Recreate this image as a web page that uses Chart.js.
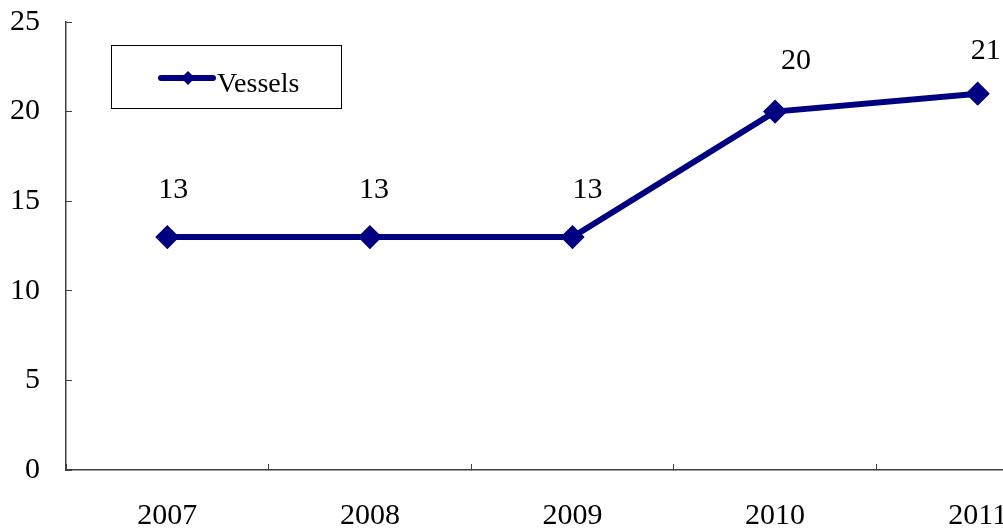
<!DOCTYPE html>
<html>
<head>
<meta charset="utf-8">
<script src="https://cdn.jsdelivr.net/npm/chart.js@4/dist/chart.umd.min.js"></script>
<style>
  html, body { margin: 0; padding: 0; background: #fff; overflow: hidden; }
  #wrap { width: 1092px; height: 540px; position: relative; }
</style>
</head>
<body>
<div id="wrap"><canvas id="vesselChart"></canvas></div>
<script>
// --- DATA ---
const years = ['2007', '2008', '2009', '2010', '2011'];
const vessels = [13, 13, 13, 20, 21];
const yTicks = [0, 5, 10, 15, 20, 25];
const seriesLabel = 'Vessels';

const NAVY = '#000080';
const AXIS = '#404040';
const FONT = "'Liberation Serif', 'DejaVu Serif', serif";

// small per-label nudges (px) so value labels sit like the original
const labelNudgeX = [6, 4, 15, 21, 8];
const labelNudgeY = [-47, -47, -47, -50, -43];

// value labels above each point
const valueLabels = {
    id: 'valueLabels',
    afterDatasetsDraw(chart) {
        const ctx = chart.ctx;
        const meta = chart.getDatasetMeta(0);
        ctx.save();
        ctx.font = `30px ${FONT}`;
        ctx.fillStyle = '#000';
        ctx.textAlign = 'center';
        ctx.textBaseline = 'middle';
        meta.data.forEach((pt, i) => {
            ctx.fillText(String(chart.data.datasets[0].data[i]),
                pt.x + labelNudgeX[i], pt.y + labelNudgeY[i]);
        });
        ctx.restore();
    }
};

// boxed legend in the upper-left of the plot
const boxLegend = {
    id: 'boxLegend',
    afterDraw(chart) {
        const ctx = chart.ctx;
        const ds = chart.data.datasets[0];
        ctx.save();
        ctx.strokeStyle = '#000';
        ctx.lineWidth = 1;
        ctx.strokeRect(111.5, 45.5, 230, 63);
        // sample line
        ctx.strokeStyle = ds.borderColor;
        ctx.lineWidth = 6;
        ctx.lineCap = 'round';
        ctx.beginPath();
        ctx.moveTo(161, 78);
        ctx.lineTo(213, 78);
        ctx.stroke();
        // sample marker
        ctx.fillStyle = ds.borderColor;
        ctx.beginPath();
        ctx.moveTo(188, 71);
        ctx.lineTo(195, 78);
        ctx.lineTo(188, 85);
        ctx.lineTo(181, 78);
        ctx.closePath();
        ctx.fill();
        // text
        ctx.fillStyle = '#000';
        ctx.font = `28px ${FONT}`;
        ctx.textAlign = 'left';
        ctx.textBaseline = 'alphabetic';
        ctx.fillText(ds.label, 217, 92);
        ctx.restore();
    }
};

new Chart(document.getElementById('vesselChart').getContext('2d'), {
    type: 'line',
    data: {
        labels: years,
        datasets: [{
            label: seriesLabel,
            data: vessels,
            borderColor: NAVY,
            backgroundColor: NAVY,
            borderWidth: 6,
            pointStyle: 'rectRot',
            pointRadius: 10,
            pointBorderWidth: 3,
            pointBackgroundColor: NAVY,
            pointBorderColor: NAVY,
            tension: 0,
            fill: false
        }]
    },
    options: {
        responsive: true, maintainAspectRatio: false,
        animation: false,
        layout: { padding: { top: 22, right: 2, left: 0, bottom: 0 } },
        plugins: { legend: { display: false }, tooltip: { enabled: false } },
        scales: {
            x: {
                offset: true,
                grid: { offset: true, drawOnChartArea: false, tickLength: -6, color: AXIS, lineWidth: 1 },
                border: { color: AXIS, width: 1.5 },
                ticks: { color: '#000', font: { family: FONT, size: 30 }, padding: 34, maxRotation: 0 },
                afterFit(scale) { scale.height = 70; }
            },
            y: {
                min: 0, max: 25,
                afterBuildTicks(scale) { scale.ticks = yTicks.map(v => ({ value: v })); },
                grid: { drawOnChartArea: false, tickLength: -6, color: AXIS, lineWidth: 1 },
                border: { color: AXIS, width: 1.5 },
                ticks: { color: '#000', font: { family: FONT, size: 30 }, padding: 32 },
                afterFit(scale) {
                    scale.width = 66;
                    scale.paddingTop = 0;
                    scale.paddingBottom = 0;
                }
            }
        }
    },
    plugins: [valueLabels, boxLegend]
});
</script>
</body>
</html>
